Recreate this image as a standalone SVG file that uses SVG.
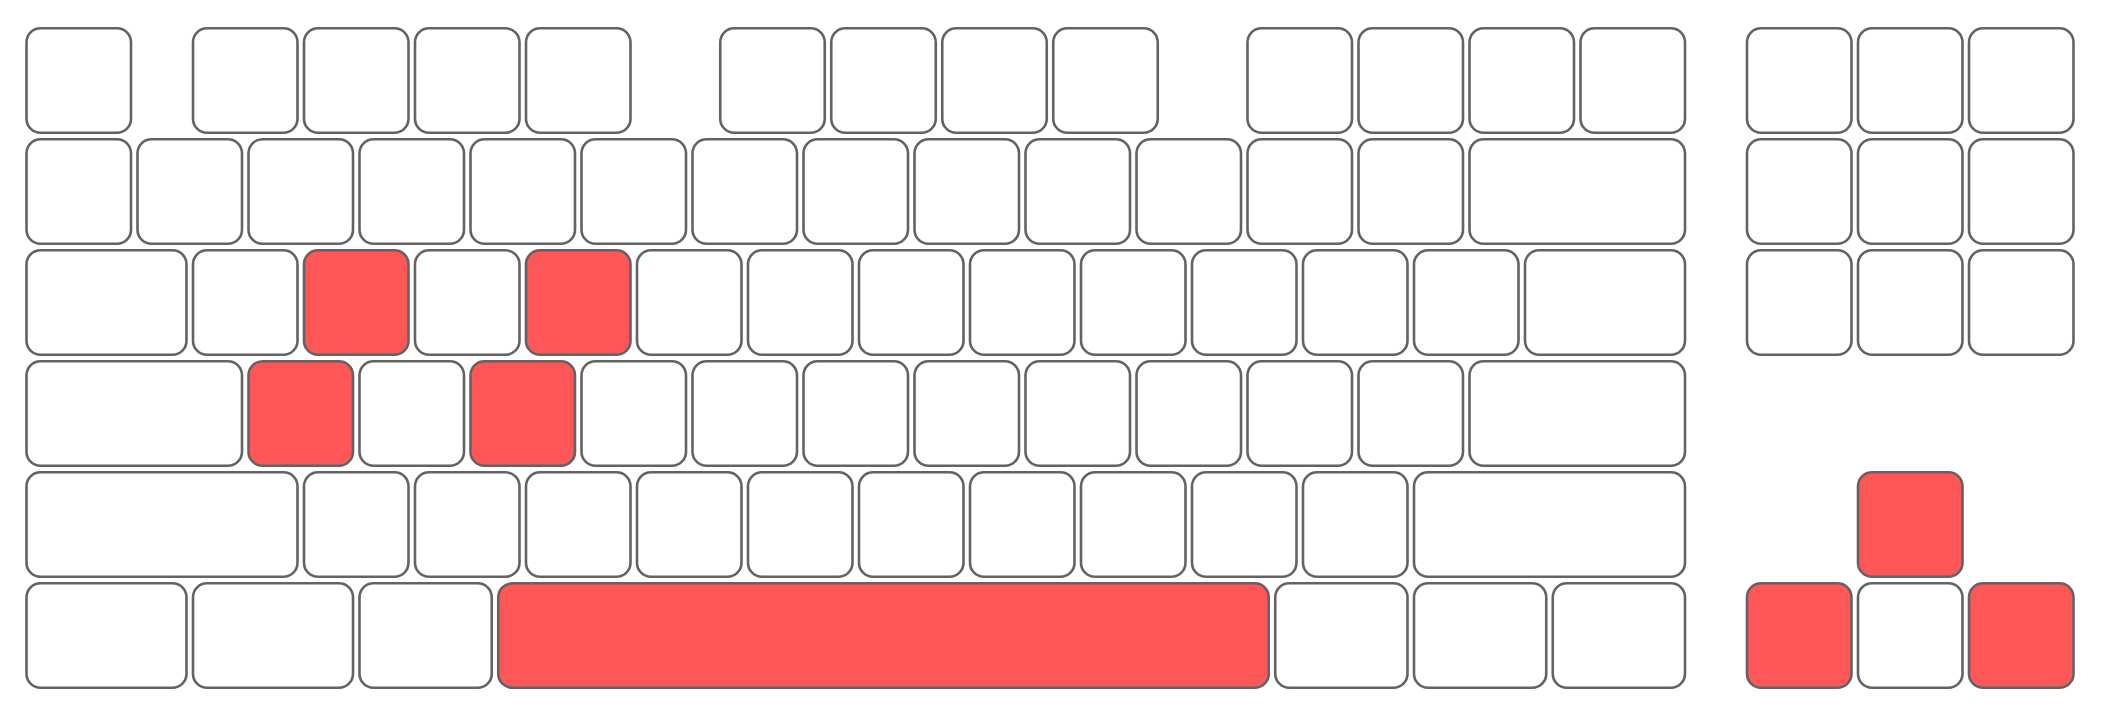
<svg xmlns="http://www.w3.org/2000/svg" width="2101" height="715" viewBox="0 0 2101 715">
<style>
rect.k{fill:#ffffff;stroke:#636363;stroke-width:2.6}
rect.r{fill:#ff5757;stroke:#636363;stroke-width:2.6}
</style>
<rect x="0" y="0" width="2101" height="715" fill="#ffffff"/>
<!-- Row 0 -->
<g id="row0">
<g id="k-esc"><rect class="k" x="26.5" y="28.3" width="104.5" height="104.5" rx="14"/></g>
<g id="k-f1"><rect class="k" x="193" y="28.3" width="104.5" height="104.5" rx="14"/></g>
<g id="k-f2"><rect class="k" x="304" y="28.3" width="104.5" height="104.5" rx="14"/></g>
<g id="k-f3"><rect class="k" x="415" y="28.3" width="104.5" height="104.5" rx="14"/></g>
<g id="k-f4"><rect class="k" x="526" y="28.3" width="104.5" height="104.5" rx="14"/></g>
<g id="k-f5"><rect class="k" x="720.25" y="28.3" width="104.5" height="104.5" rx="14"/></g>
<g id="k-f6"><rect class="k" x="831.25" y="28.3" width="104.5" height="104.5" rx="14"/></g>
<g id="k-f7"><rect class="k" x="942.25" y="28.3" width="104.5" height="104.5" rx="14"/></g>
<g id="k-f8"><rect class="k" x="1053.25" y="28.3" width="104.5" height="104.5" rx="14"/></g>
<g id="k-f9"><rect class="k" x="1247.5" y="28.3" width="104.5" height="104.5" rx="14"/></g>
<g id="k-f10"><rect class="k" x="1358.5" y="28.3" width="104.5" height="104.5" rx="14"/></g>
<g id="k-f11"><rect class="k" x="1469.5" y="28.3" width="104.5" height="104.5" rx="14"/></g>
<g id="k-f12"><rect class="k" x="1580.5" y="28.3" width="104.5" height="104.5" rx="14"/></g>
<g id="k-prt"><rect class="k" x="1747" y="28.3" width="104.5" height="104.5" rx="14"/></g>
<g id="k-scr"><rect class="k" x="1858" y="28.3" width="104.5" height="104.5" rx="14"/></g>
<g id="k-pause"><rect class="k" x="1969" y="28.3" width="104.5" height="104.5" rx="14"/></g>
</g>
<!-- Row 1 -->
<g id="row1">
<g id="k-grave"><rect class="k" x="26.5" y="139.3" width="104.5" height="104.5" rx="14"/></g>
<g id="k-1"><rect class="k" x="137.5" y="139.3" width="104.5" height="104.5" rx="14"/></g>
<g id="k-2"><rect class="k" x="248.5" y="139.3" width="104.5" height="104.5" rx="14"/></g>
<g id="k-3"><rect class="k" x="359.5" y="139.3" width="104.5" height="104.5" rx="14"/></g>
<g id="k-4"><rect class="k" x="470.5" y="139.3" width="104.5" height="104.5" rx="14"/></g>
<g id="k-5"><rect class="k" x="581.5" y="139.3" width="104.5" height="104.5" rx="14"/></g>
<g id="k-6"><rect class="k" x="692.5" y="139.3" width="104.5" height="104.5" rx="14"/></g>
<g id="k-7"><rect class="k" x="803.5" y="139.3" width="104.5" height="104.5" rx="14"/></g>
<g id="k-8"><rect class="k" x="914.5" y="139.3" width="104.5" height="104.5" rx="14"/></g>
<g id="k-9"><rect class="k" x="1025.5" y="139.3" width="104.5" height="104.5" rx="14"/></g>
<g id="k-0"><rect class="k" x="1136.5" y="139.3" width="104.5" height="104.5" rx="14"/></g>
<g id="k-minus"><rect class="k" x="1247.5" y="139.3" width="104.5" height="104.5" rx="14"/></g>
<g id="k-equal"><rect class="k" x="1358.5" y="139.3" width="104.5" height="104.5" rx="14"/></g>
<g id="k-bksp"><rect class="k" x="1469.5" y="139.3" width="215.5" height="104.5" rx="14"/></g>
<g id="k-ins"><rect class="k" x="1747" y="139.3" width="104.5" height="104.5" rx="14"/></g>
<g id="k-home"><rect class="k" x="1858" y="139.3" width="104.5" height="104.5" rx="14"/></g>
<g id="k-pgup"><rect class="k" x="1969" y="139.3" width="104.5" height="104.5" rx="14"/></g>
</g>
<!-- Row 2 -->
<g id="row2">
<g id="k-tab"><rect class="k" x="26.5" y="250.3" width="160" height="104.5" rx="14"/></g>
<g id="k-q"><rect class="k" x="193" y="250.3" width="104.5" height="104.5" rx="14"/></g>
<g id="k-w"><rect class="r" x="304" y="250.3" width="104.5" height="104.5" rx="14"/></g>
<g id="k-e"><rect class="k" x="415" y="250.3" width="104.5" height="104.5" rx="14"/></g>
<g id="k-r"><rect class="r" x="526" y="250.3" width="104.5" height="104.5" rx="14"/></g>
<g id="k-t"><rect class="k" x="637" y="250.3" width="104.5" height="104.5" rx="14"/></g>
<g id="k-y"><rect class="k" x="748" y="250.3" width="104.5" height="104.5" rx="14"/></g>
<g id="k-u"><rect class="k" x="859" y="250.3" width="104.5" height="104.5" rx="14"/></g>
<g id="k-i"><rect class="k" x="970" y="250.3" width="104.5" height="104.5" rx="14"/></g>
<g id="k-o"><rect class="k" x="1081" y="250.3" width="104.5" height="104.5" rx="14"/></g>
<g id="k-p"><rect class="k" x="1192" y="250.3" width="104.5" height="104.5" rx="14"/></g>
<g id="k-lbr"><rect class="k" x="1303" y="250.3" width="104.5" height="104.5" rx="14"/></g>
<g id="k-rbr"><rect class="k" x="1414" y="250.3" width="104.5" height="104.5" rx="14"/></g>
<g id="k-bslash"><rect class="k" x="1525" y="250.3" width="160" height="104.5" rx="14"/></g>
<g id="k-del"><rect class="k" x="1747" y="250.3" width="104.5" height="104.5" rx="14"/></g>
<g id="k-end"><rect class="k" x="1858" y="250.3" width="104.5" height="104.5" rx="14"/></g>
<g id="k-pgdn"><rect class="k" x="1969" y="250.3" width="104.5" height="104.5" rx="14"/></g>
</g>
<!-- Row 3 -->
<g id="row3">
<g id="k-caps"><rect class="k" x="26.5" y="361.3" width="215.5" height="104.5" rx="14"/></g>
<g id="k-a"><rect class="r" x="248.5" y="361.3" width="104.5" height="104.5" rx="14"/></g>
<g id="k-s"><rect class="k" x="359.5" y="361.3" width="104.5" height="104.5" rx="14"/></g>
<g id="k-d"><rect class="r" x="470.5" y="361.3" width="104.5" height="104.5" rx="14"/></g>
<g id="k-f"><rect class="k" x="581.5" y="361.3" width="104.5" height="104.5" rx="14"/></g>
<g id="k-g"><rect class="k" x="692.5" y="361.3" width="104.5" height="104.5" rx="14"/></g>
<g id="k-h"><rect class="k" x="803.5" y="361.3" width="104.5" height="104.5" rx="14"/></g>
<g id="k-j"><rect class="k" x="914.5" y="361.3" width="104.5" height="104.5" rx="14"/></g>
<g id="k-k"><rect class="k" x="1025.5" y="361.3" width="104.5" height="104.5" rx="14"/></g>
<g id="k-l"><rect class="k" x="1136.5" y="361.3" width="104.5" height="104.5" rx="14"/></g>
<g id="k-semi"><rect class="k" x="1247.5" y="361.3" width="104.5" height="104.5" rx="14"/></g>
<g id="k-quote"><rect class="k" x="1358.5" y="361.3" width="104.5" height="104.5" rx="14"/></g>
<g id="k-enter"><rect class="k" x="1469.5" y="361.3" width="215.5" height="104.5" rx="14"/></g>
</g>
<!-- Row 4 -->
<g id="row4">
<g id="k-lshift"><rect class="k" x="26.5" y="472.3" width="271" height="104.5" rx="14"/></g>
<g id="k-z"><rect class="k" x="304" y="472.3" width="104.5" height="104.5" rx="14"/></g>
<g id="k-x"><rect class="k" x="415" y="472.3" width="104.5" height="104.5" rx="14"/></g>
<g id="k-c"><rect class="k" x="526" y="472.3" width="104.5" height="104.5" rx="14"/></g>
<g id="k-v"><rect class="k" x="637" y="472.3" width="104.5" height="104.5" rx="14"/></g>
<g id="k-b"><rect class="k" x="748" y="472.3" width="104.5" height="104.5" rx="14"/></g>
<g id="k-n"><rect class="k" x="859" y="472.3" width="104.5" height="104.5" rx="14"/></g>
<g id="k-m"><rect class="k" x="970" y="472.3" width="104.5" height="104.5" rx="14"/></g>
<g id="k-comma"><rect class="k" x="1081" y="472.3" width="104.5" height="104.5" rx="14"/></g>
<g id="k-period"><rect class="k" x="1192" y="472.3" width="104.5" height="104.5" rx="14"/></g>
<g id="k-slash"><rect class="k" x="1303" y="472.3" width="104.5" height="104.5" rx="14"/></g>
<g id="k-rshift"><rect class="k" x="1414" y="472.3" width="271" height="104.5" rx="14"/></g>
<g id="k-up"><rect class="r" x="1858" y="472.3" width="104.5" height="104.5" rx="14"/></g>
</g>
<!-- Row 5 -->
<g id="row5">
<g id="k-lctrl"><rect class="k" x="26.5" y="583.3" width="160" height="104.5" rx="14"/></g>
<g id="k-lwin"><rect class="k" x="193" y="583.3" width="160" height="104.5" rx="14"/></g>
<g id="k-lalt"><rect class="k" x="359.5" y="583.3" width="132.25" height="104.5" rx="14"/></g>
<g id="k-space"><rect class="r" x="498.25" y="583.3" width="770.5" height="104.5" rx="14"/></g>
<g id="k-ralt"><rect class="k" x="1275.25" y="583.3" width="132.25" height="104.5" rx="14"/></g>
<g id="k-menu"><rect class="k" x="1414" y="583.3" width="132.25" height="104.5" rx="14"/></g>
<g id="k-rctrl"><rect class="k" x="1552.75" y="583.3" width="132.25" height="104.5" rx="14"/></g>
<g id="k-left"><rect class="r" x="1747" y="583.3" width="104.5" height="104.5" rx="14"/></g>
<g id="k-down"><rect class="k" x="1858" y="583.3" width="104.5" height="104.5" rx="14"/></g>
<g id="k-right"><rect class="r" x="1969" y="583.3" width="104.5" height="104.5" rx="14"/></g>
</g>
</svg>
